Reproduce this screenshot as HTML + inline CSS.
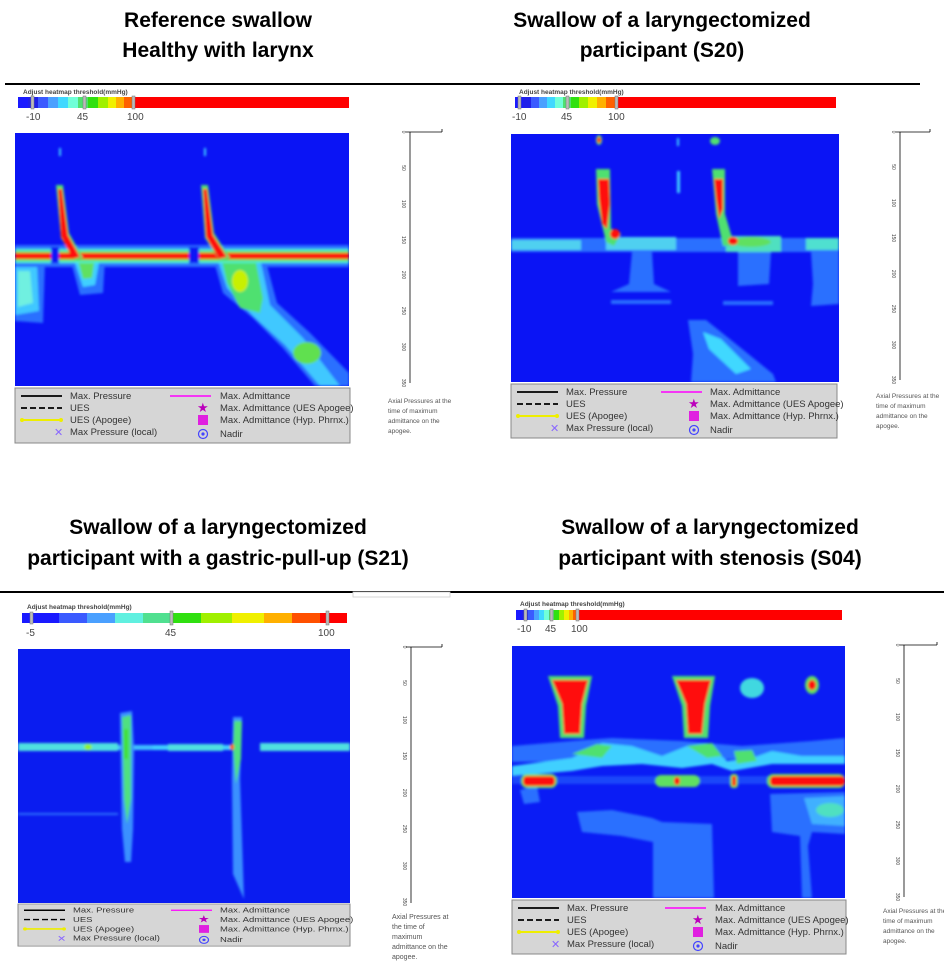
<!DOCTYPE html>
<html><head><meta charset="utf-8"><style>
html,body{margin:0;padding:0;background:#fff;width:944px;height:962px;overflow:hidden}
svg{display:block}
.t{font-family:"Liberation Sans",sans-serif;font-weight:bold;font-size:21px;fill:#000}
.lg{font-family:"Liberation Sans",sans-serif;font-size:9.5px;fill:#333}
.sm{font-family:"Liberation Sans",sans-serif;font-size:6.5px;fill:#555}
.ax{font-family:"Liberation Sans",sans-serif;font-size:5px;fill:#444}
.cb{font-family:"Liberation Sans",sans-serif;font-size:10px;fill:#444}
.cbt{font-family:"Liberation Sans",sans-serif;font-size:6.5px;fill:#444;font-weight:bold}
</style></head><body>
<svg width="944" height="962" viewBox="0 0 944 962" xmlns="http://www.w3.org/2000/svg">
<defs>
<filter id="b1" x="-20%" y="-20%" width="140%" height="140%"><feGaussianBlur stdDeviation="1.3"/></filter>
</defs>
<text class="t" x="218" y="27" text-anchor="middle">Reference swallow</text>
<text class="t" x="218" y="57" text-anchor="middle">Healthy with larynx</text>
<text class="t" x="662" y="27" text-anchor="middle">Swallow of a laryngectomized</text>
<text class="t" x="662" y="57" text-anchor="middle">participant (S20)</text>
<text class="t" x="218" y="534" text-anchor="middle">Swallow of a laryngectomized</text>
<text class="t" x="218" y="565" text-anchor="middle">participant with a gastric-pull-up (S21)</text>
<text class="t" x="710" y="534" text-anchor="middle">Swallow of a laryngectomized</text>
<text class="t" x="710" y="565" text-anchor="middle">participant with stenosis (S04)</text>
<line x1="5" y1="84" x2="920" y2="84" stroke="#000" stroke-width="2"/>
<line x1="0" y1="592" x2="944" y2="592" stroke="#000" stroke-width="2"/>

<!-- ===== Panel 1 ===== -->
<text class="cbt" x="23" y="94">Adjust heatmap threshold(mmHg)</text>
<g>
<rect x="18" y="97" width="331" height="11" fill="#f00"/>
<rect x="18" y="97" width="10" height="11" fill="#1a1aff"/><rect x="28" y="97" width="10" height="11" fill="#2020e8"/>
<rect x="38" y="97" width="10" height="11" fill="#3a5aff"/><rect x="48" y="97" width="10" height="11" fill="#4aa0ff"/>
<rect x="58" y="97" width="10" height="11" fill="#40d8ff"/><rect x="68" y="97" width="10" height="11" fill="#70ffd8"/>
<rect x="78" y="97" width="10" height="11" fill="#50e070"/><rect x="88" y="97" width="10" height="11" fill="#30e010"/>
<rect x="98" y="97" width="10" height="11" fill="#a0f000"/><rect x="108" y="97" width="8" height="11" fill="#f0f000"/>
<rect x="116" y="97" width="8" height="11" fill="#ffb000"/><rect x="124" y="97" width="9" height="11" fill="#ff6000"/>
<rect x="31" y="96" width="3" height="13" fill="#bbb" stroke="#777" stroke-width=".5"/>
<rect x="83" y="96" width="3" height="13" fill="#bbb" stroke="#777" stroke-width=".5"/>
<rect x="132" y="96" width="3" height="13" fill="#bbb" stroke="#777" stroke-width=".5"/>
</g>
<text class="cb" x="26" y="120">-10</text><text class="cb" x="77" y="120">45</text><text class="cb" x="127" y="120">100</text>
<svg x="15" y="133" width="334" height="253" viewBox="0 0 334 253">
<rect width="334" height="253" fill="#0a14f5"/>
<g filter="url(#b1)">
<path d="M0 128 L30 128 L28 190 L0 188Z" fill="#2a70ff"/>
<path d="M0 130 L22 130 L24 178 L0 182Z" fill="#40c8ff"/>
<path d="M3 138 L15 138 L18 170 L3 174Z" fill="#70f0e0"/>
<rect x="0" y="112" width="334" height="22" fill="#2a70ff"/>
<path d="M55 125 L90 125 L88 160 L65 162Z" fill="#2a70ff"/>
<path d="M58 124 L85 124 L80 152 L68 154Z" fill="#40d0ff"/>
<path d="M62 124 L80 124 L77 145 L68 146Z" fill="#60e060"/>
<path d="M198 125 L250 125 L262 170 L295 200 L334 240 L334 253 L300 253 L268 215 L238 185 L208 160Z" fill="#2a70ff"/>
<path d="M202 125 L245 125 L255 172 L288 205 L325 253 L305 253 L270 212 L238 183 L212 155Z" fill="#40c8ff"/>
<path d="M206 124 L240 124 L248 165 L245 180 L225 175 L212 150Z" fill="#50e070"/>
<ellipse cx="225" cy="148" rx="8" ry="11" fill="#c8f000"/>
<ellipse cx="292" cy="220" rx="14" ry="11" fill="#60e050"/>
<rect x="0" y="116" width="334" height="14" fill="#50f0d0"/>
<rect x="0" y="118" width="334" height="10" fill="#60e040"/>
<rect x="0" y="120" width="334" height="6" fill="#ff1010"/>
<rect x="36" y="114" width="8" height="16" fill="#0a14f5"/>
<path d="M41 52 L48 52 L54 100 L68 125 L60 127 L46 105Z" fill="#50e070"/>
<path d="M43 56 L47 56 L53 102 L65 124 L58 126 L46 104Z" fill="#ff1010"/>
<path d="M186 52 L193 52 L199 100 L215 125 L205 128 L190 105Z" fill="#50e070"/>
<path d="M188 56 L192 56 L198 102 L212 124 L204 126 L191 104Z" fill="#ff1010"/>
<rect x="174" y="114" width="10" height="16" fill="#0a14f5"/>
<rect x="44" y="15" width="2" height="8" fill="#40d0ff"/><rect x="189" y="15" width="2" height="8" fill="#40d0ff"/>
</g>
</svg>
<g transform="translate(15,388)">
<rect x="0" y="0" width="335" height="55" fill="#d6d6d6" stroke="#888"/>
<line x1="6" y1="8" x2="47" y2="8" stroke="#000" stroke-width="1.8"/><text class="lg" x="55" y="11">Max. Pressure</text>
<line x1="6" y1="20" x2="47" y2="20" stroke="#000" stroke-width="1.8" stroke-dasharray="6,3"/><text class="lg" x="55" y="23">UES</text>
<line x1="6" y1="32" x2="47" y2="32" stroke="#ee0" stroke-width="2"/><circle cx="7" cy="32" r="2" fill="#ee0"/><circle cx="46" cy="32" r="2" fill="#ee0"/><text class="lg" x="55" y="35">UES (Apogee)</text>
<text x="39" y="48" font-size="11" fill="#86f" font-family="DejaVu Sans">✕</text><text class="lg" x="55" y="47">Max Pressure (local)</text>
<line x1="155" y1="8" x2="196" y2="8" stroke="#f0f" stroke-width="1.5"/><text class="lg" x="205" y="11">Max. Admittance</text>
<text x="182" y="24" font-size="13" fill="#b0b" font-family="DejaVu Sans">★</text><text class="lg" x="205" y="23">Max. Admittance (UES Apogee)</text>
<rect x="183" y="27" width="10" height="10" fill="#e020e0"/><text class="lg" x="205" y="35">Max. Admittance (Hyp. Phrnx.)</text>
<circle cx="188" cy="46" r="4.5" fill="none" stroke="#44f" stroke-width="1.2"/><circle cx="188" cy="46" r="1.6" fill="#44f"/><text class="lg" x="205" y="49">Nadir</text>
</g>
<g>
<line x1="410" y1="132" x2="410" y2="383" stroke="#000" stroke-width=".8"/>
<line x1="406" y1="132" x2="442" y2="132" stroke="#000" stroke-width=".8"/><line x1="442" y1="129" x2="442" y2="132" stroke="#000" stroke-width=".8"/>
<g class="ax">
<text transform="translate(402,132) rotate(90)" text-anchor="middle">0</text>
<text transform="translate(402,168) rotate(90)" text-anchor="middle">50</text>
<text transform="translate(402,204) rotate(90)" text-anchor="middle">100</text>
<text transform="translate(402,240) rotate(90)" text-anchor="middle">150</text>
<text transform="translate(402,275) rotate(90)" text-anchor="middle">200</text>
<text transform="translate(402,311) rotate(90)" text-anchor="middle">250</text>
<text transform="translate(402,347) rotate(90)" text-anchor="middle">300</text>
<text transform="translate(402,383) rotate(90)" text-anchor="middle">350</text>
</g>
<text class="sm" x="388" y="403">Axial Pressures at the</text>
<text class="sm" x="388" y="413">time of maximum</text>
<text class="sm" x="388" y="423">admittance on the</text>
<text class="sm" x="388" y="433">apogee.</text>
</g>

<!-- ===== Panel 2 ===== -->
<text class="cbt" x="519" y="94">Adjust heatmap threshold(mmHg)</text>
<g>
<rect x="515" y="97" width="321" height="11" fill="#f00"/>
<rect x="515" y="97" width="8" height="11" fill="#1a1aff"/><rect x="523" y="97" width="8" height="11" fill="#2020e8"/>
<rect x="531" y="97" width="8" height="11" fill="#3a5aff"/><rect x="539" y="97" width="8" height="11" fill="#4aa0ff"/>
<rect x="547" y="97" width="8" height="11" fill="#40d8ff"/><rect x="555" y="97" width="8" height="11" fill="#70ffd8"/>
<rect x="563" y="97" width="8" height="11" fill="#50e070"/><rect x="571" y="97" width="8" height="11" fill="#30e010"/>
<rect x="579" y="97" width="9" height="11" fill="#a0f000"/><rect x="588" y="97" width="9" height="11" fill="#f0f000"/>
<rect x="597" y="97" width="9" height="11" fill="#ffb000"/><rect x="606" y="97" width="10" height="11" fill="#ff6000"/>
<rect x="518" y="96" width="3" height="13" fill="#bbb" stroke="#777" stroke-width=".5"/>
<rect x="566" y="96" width="3" height="13" fill="#bbb" stroke="#777" stroke-width=".5"/>
<rect x="615" y="96" width="3" height="13" fill="#bbb" stroke="#777" stroke-width=".5"/>
</g>
<text class="cb" x="512" y="120">-10</text><text class="cb" x="561" y="120">45</text><text class="cb" x="608" y="120">100</text>
<svg x="511" y="134" width="328" height="248" viewBox="0 0 328 248">
<rect width="328" height="248" fill="#0a14f5"/>
<g filter="url(#b1)">
<path d="M121 118 L141 118 L143 150 L160 158 L100 158 L118 150Z" fill="#2a70ff"/>
<rect x="100" y="166" width="60" height="4" fill="#2a70ff"/>
<path d="M227 118 L260 118 L258 150 L227 152Z" fill="#2a70ff"/>
<rect x="212" y="167" width="50" height="4" fill="#2a70ff"/>
<path d="M300 118 L328 118 L328 170 L300 172 L302 150Z" fill="#2a70ff"/>
<path d="M177 186 L195 186 L225 210 L262 240 L265 248 L180 248 L182 220Z" fill="#2a70ff"/>
<path d="M192 198 L210 205 L240 235 L225 240 L198 215Z" fill="#40d8ff"/>
<rect x="0" y="104" width="328" height="14" fill="#2a70ff"/>
<rect x="0" y="106" width="70" height="10" fill="#50d0f0"/>
<rect x="95" y="103" width="70" height="13" fill="#50d0f0"/>
<rect x="215" y="102" width="55" height="16" fill="#50e0c0"/>
<ellipse cx="240" cy="108" rx="20" ry="5" fill="#60e060"/>
<rect x="295" y="104" width="33" height="12" fill="#50e0d0"/>
<path d="M85 35 L99 35 L100 95 L110 100 L103 112 L95 108 L86 70Z" fill="#50e070"/>
<path d="M87 45 L98 45 L99 70 L96 95 L91 90 L88 65Z" fill="#ff1010"/>
<ellipse cx="88" cy="6" rx="3" ry="5" fill="#50e070"/><ellipse cx="88" cy="6" rx="2" ry="3" fill="#ff1010"/>
<ellipse cx="104" cy="100" rx="5" ry="5" fill="#ff1010"/>
<path d="M201 35 L214 35 L214 80 L220 100 L225 112 L212 112 L205 80Z" fill="#50e070"/>
<path d="M203 45 L212 45 L212 75 L208 85 L205 65Z" fill="#ff1010"/>
<ellipse cx="204" cy="7" rx="5" ry="4" fill="#50e070"/>
<ellipse cx="222" cy="107" rx="5" ry="4" fill="#ff1010"/>
<rect x="166" y="37" width="3" height="22" fill="#40d0ff"/>
<rect x="166" y="4" width="2" height="8" fill="#40d0ff"/>
</g>
</svg>
<g transform="translate(511,384)">
<rect x="0" y="0" width="326" height="54" fill="#d6d6d6" stroke="#888"/>
<line x1="6" y1="8" x2="47" y2="8" stroke="#000" stroke-width="1.8"/><text class="lg" x="55" y="11">Max. Pressure</text>
<line x1="6" y1="20" x2="47" y2="20" stroke="#000" stroke-width="1.8" stroke-dasharray="6,3"/><text class="lg" x="55" y="23">UES</text>
<line x1="6" y1="32" x2="47" y2="32" stroke="#ee0" stroke-width="2"/><circle cx="7" cy="32" r="2" fill="#ee0"/><circle cx="46" cy="32" r="2" fill="#ee0"/><text class="lg" x="55" y="35">UES (Apogee)</text>
<text x="39" y="48" font-size="11" fill="#86f" font-family="DejaVu Sans">✕</text><text class="lg" x="55" y="47">Max Pressure (local)</text>
<line x1="150" y1="8" x2="191" y2="8" stroke="#f0f" stroke-width="1.5"/><text class="lg" x="199" y="11">Max. Admittance</text>
<text x="177" y="24" font-size="13" fill="#b0b" font-family="DejaVu Sans">★</text><text class="lg" x="199" y="23">Max. Admittance (UES Apogee)</text>
<rect x="178" y="27" width="10" height="10" fill="#e020e0"/><text class="lg" x="199" y="35">Max. Admittance (Hyp. Phrnx.)</text>
<circle cx="183" cy="46" r="4.5" fill="none" stroke="#44f" stroke-width="1.2"/><circle cx="183" cy="46" r="1.6" fill="#44f"/><text class="lg" x="199" y="49">Nadir</text>
</g>
<g>
<line x1="900" y1="132" x2="900" y2="380" stroke="#000" stroke-width=".8"/>
<line x1="896" y1="132" x2="930" y2="132" stroke="#000" stroke-width=".8"/><line x1="930" y1="129" x2="930" y2="132" stroke="#000" stroke-width=".8"/>
<g class="ax">
<text transform="translate(892,132) rotate(90)" text-anchor="middle">0</text>
<text transform="translate(892,167) rotate(90)" text-anchor="middle">50</text>
<text transform="translate(892,203) rotate(90)" text-anchor="middle">100</text>
<text transform="translate(892,238) rotate(90)" text-anchor="middle">150</text>
<text transform="translate(892,274) rotate(90)" text-anchor="middle">200</text>
<text transform="translate(892,309) rotate(90)" text-anchor="middle">250</text>
<text transform="translate(892,345) rotate(90)" text-anchor="middle">300</text>
<text transform="translate(892,380) rotate(90)" text-anchor="middle">350</text>
</g>
<text class="sm" x="876" y="398">Axial Pressures at the</text>
<text class="sm" x="876" y="408">time of maximum</text>
<text class="sm" x="876" y="418">admittance on the</text>
<text class="sm" x="876" y="428">apogee.</text>
</g>

<!-- ===== Panel 3 ===== -->
<rect x="353" y="592" width="97" height="5" fill="#fff" stroke="#ccc" stroke-width=".8"/>
<text class="cbt" x="27" y="609">Adjust heatmap threshold(mmHg)</text>
<g>
<rect x="22" y="613" width="37" height="10" fill="#1a1aff"/><rect x="59" y="613" width="28" height="10" fill="#3a5aff"/>
<rect x="87" y="613" width="28" height="10" fill="#4aa0ff"/><rect x="115" y="613" width="28" height="10" fill="#60f0e0"/>
<rect x="143" y="613" width="28" height="10" fill="#50e090"/><rect x="171" y="613" width="30" height="10" fill="#30e010"/>
<rect x="201" y="613" width="31" height="10" fill="#a0f000"/><rect x="232" y="613" width="32" height="10" fill="#f0f000"/>
<rect x="264" y="613" width="28" height="10" fill="#ffb000"/><rect x="292" y="613" width="28" height="10" fill="#ff5000"/>
<rect x="320" y="613" width="27" height="10" fill="#f00"/>
<rect x="30" y="612" width="3" height="12" fill="#bbb" stroke="#777" stroke-width=".5"/>
<rect x="170" y="611" width="3" height="14" fill="#bbb" stroke="#777" stroke-width=".5"/>
<rect x="326" y="611" width="3" height="14" fill="#bbb" stroke="#777" stroke-width=".5"/>
</g>
<text class="cb" x="26" y="636">-5</text><text class="cb" x="165" y="636">45</text><text class="cb" x="318" y="636">100</text>
<svg x="18" y="649" width="332" height="254" viewBox="0 0 332 254">
<rect width="332" height="254" fill="#0a1cf0"/>
<g filter="url(#b1)">
<rect x="0" y="94" width="100" height="8" fill="#50e0e0"/>
<rect x="100" y="96" width="35" height="5" fill="#40c0ff"/>
<rect x="135" y="96" width="80" height="5" fill="#40d0ff"/>
<rect x="150" y="95" width="55" height="7" fill="#50e0e0"/>
<rect x="242" y="94" width="90" height="8" fill="#50e0e0"/>
<ellipse cx="70" cy="98" rx="4" ry="3" fill="#90f020"/>
<rect x="0" y="164" width="100" height="2" fill="#3a90ff" opacity=".7"/>
<path d="M102 64 L114 62 L116 100 L115 180 L113 213 L107 213 L104 180Z" fill="#3a90ff"/>
<path d="M104 68 L113 66 L113 150 L109 175 L106 150Z" fill="#50e080"/>
<rect x="106" y="80" width="4" height="30" fill="#40e030"/>
<path d="M215 68 L224 68 L222 130 L226 250 L215 225 L214 130Z" fill="#3a90ff"/>
<path d="M216 72 L224 72 L223 110 L218 135 L215 100Z" fill="#50e080"/>
<ellipse cx="214" cy="98" rx="2" ry="3" fill="#ff5000"/>
</g>
</svg>
<g transform="translate(18,904) scale(1,0.78)">
<rect x="0" y="0" width="332" height="54" fill="#d6d6d6" stroke="#888"/>
<line x1="6" y1="8" x2="47" y2="8" stroke="#000" stroke-width="1.8"/><text class="lg" x="55" y="11">Max. Pressure</text>
<line x1="6" y1="20" x2="47" y2="20" stroke="#000" stroke-width="1.8" stroke-dasharray="6,3"/><text class="lg" x="55" y="23">UES</text>
<line x1="6" y1="32" x2="47" y2="32" stroke="#ee0" stroke-width="2"/><circle cx="7" cy="32" r="2" fill="#ee0"/><circle cx="46" cy="32" r="2" fill="#ee0"/><text class="lg" x="55" y="35">UES (Apogee)</text>
<text x="39" y="48" font-size="11" fill="#86f" font-family="DejaVu Sans">✕</text><text class="lg" x="55" y="47">Max Pressure (local)</text>
<line x1="153" y1="8" x2="194" y2="8" stroke="#f0f" stroke-width="1.5"/><text class="lg" x="202" y="11">Max. Admittance</text>
<text x="180" y="24" font-size="13" fill="#b0b" font-family="DejaVu Sans">★</text><text class="lg" x="202" y="23">Max. Admittance (UES Apogee)</text>
<rect x="181" y="27" width="10" height="10" fill="#e020e0"/><text class="lg" x="202" y="35">Max. Admittance (Hyp. Phrnx.)</text>
<circle cx="186" cy="46" r="4.5" fill="none" stroke="#44f" stroke-width="1.2"/><circle cx="186" cy="46" r="1.6" fill="#44f"/><text class="lg" x="202" y="49">Nadir</text>
</g>
<g>
<line x1="411" y1="647" x2="411" y2="903" stroke="#000" stroke-width=".8"/>
<line x1="406" y1="647" x2="442" y2="647" stroke="#000" stroke-width=".8"/><line x1="442" y1="644" x2="442" y2="647" stroke="#000" stroke-width=".8"/>
<g class="ax">
<text transform="translate(403,647) rotate(90)" text-anchor="middle">0</text>
<text transform="translate(403,683) rotate(90)" text-anchor="middle">50</text>
<text transform="translate(403,720) rotate(90)" text-anchor="middle">100</text>
<text transform="translate(403,756) rotate(90)" text-anchor="middle">150</text>
<text transform="translate(403,793) rotate(90)" text-anchor="middle">200</text>
<text transform="translate(403,829) rotate(90)" text-anchor="middle">250</text>
<text transform="translate(403,866) rotate(90)" text-anchor="middle">300</text>
<text transform="translate(403,902) rotate(90)" text-anchor="middle">350</text>
</g>
<text class="sm" x="392" y="919" style="font-size:7px">Axial Pressures at</text>
<text class="sm" x="392" y="929" style="font-size:7px">the time of</text>
<text class="sm" x="392" y="939" style="font-size:7px">maximum</text>
<text class="sm" x="392" y="949" style="font-size:7px">admittance on the</text>
<text class="sm" x="392" y="959" style="font-size:7px">apogee.</text>
</g>

<!-- ===== Panel 4 ===== -->
<text class="cbt" x="520" y="606">Adjust heatmap threshold(mmHg)</text>
<g>
<rect x="516" y="610" width="326" height="10" fill="#f00"/>
<rect x="516" y="610" width="6" height="10" fill="#1a1aff"/><rect x="522" y="610" width="6" height="10" fill="#2020e8"/>
<rect x="528" y="610" width="6" height="10" fill="#3a5aff"/><rect x="534" y="610" width="5" height="10" fill="#4aa0ff"/>
<rect x="539" y="610" width="5" height="10" fill="#40d8ff"/><rect x="544" y="610" width="5" height="10" fill="#70ffd8"/>
<rect x="549" y="610" width="5" height="10" fill="#50e070"/><rect x="554" y="610" width="5" height="10" fill="#30e010"/>
<rect x="559" y="610" width="5" height="10" fill="#a0f000"/><rect x="564" y="610" width="5" height="10" fill="#f0f000"/>
<rect x="569" y="610" width="4" height="10" fill="#ffb000"/><rect x="573" y="610" width="5" height="10" fill="#ff6000"/>
<rect x="524" y="609" width="3" height="12" fill="#bbb" stroke="#777" stroke-width=".5"/>
<rect x="550" y="609" width="3" height="12" fill="#bbb" stroke="#777" stroke-width=".5"/>
<rect x="576" y="609" width="3" height="12" fill="#bbb" stroke="#777" stroke-width=".5"/>
</g>
<text class="cb" x="517" y="632">-10</text><text class="cb" x="545" y="632">45</text><text class="cb" x="571" y="632">100</text>
<svg x="512" y="646" width="333" height="252" viewBox="0 0 333 252">
<rect width="333" height="252" fill="#0a1cf5"/>
<g filter="url(#b1)">
<path d="M0 100 L60 95 L100 92 L170 95 L230 100 L300 95 L333 92 L333 112 L0 116Z" fill="#2a70ff"/>
<path d="M8 144 L25 140 L28 156 L12 158Z" fill="#2a70ff"/>
<path d="M65 166 L100 164 L140 172 L150 176 L200 178 L202 252 L141 252 L141 196 L110 190 L70 186Z" fill="#2a70ff"/>
<path d="M258 148 L333 146 L333 188 L300 186 L296 200 L300 252 L290 252 L288 190 L260 186Z" fill="#2a70ff"/>
<path d="M292 152 L333 150 L333 180 L300 178Z" fill="#40b0ff"/>
<ellipse cx="318" cy="164" rx="14" ry="7" fill="#50e0c0"/>
<path d="M0 120 L60 112 L90 97 L120 100 L150 110 L175 100 L195 97 L215 115 L240 112 L260 105 L290 110 L333 110 L333 118 L260 118 L220 125 L200 118 L170 122 L130 118 L90 120 L60 125 L0 130Z" fill="#40d0ff"/>
<path d="M60 108 L85 98 L100 100 L90 112Z" fill="#50e070"/>
<path d="M175 100 L200 97 L210 110 L195 112Z" fill="#50e070"/>
<path d="M222 105 L240 104 L245 115 L225 118Z" fill="#50e070"/>
<path d="M36 30 L80 30 L74 60 L72 92 L48 92 L46 60Z" fill="#50e070"/>
<path d="M40 34 L76 34 L70 58 L68 88 L52 88 L50 58Z" fill="#ff1010"/>
<path d="M160 30 L203 30 L198 60 L196 92 L172 92 L170 60Z" fill="#50e070"/>
<path d="M164 34 L199 34 L193 58 L190 88 L176 88 L174 58Z" fill="#ff1010"/>
<ellipse cx="240" cy="42" rx="12" ry="10" fill="#40d8e0"/>
<ellipse cx="300" cy="39" rx="7" ry="9" fill="#60e060"/>
<ellipse cx="300" cy="39" rx="4" ry="5" fill="#ff1010"/>
<rect x="0" y="130" width="333" height="8" fill="#2a70ff" opacity=".5"/>
<rect x="9" y="128" width="36" height="14" rx="6" fill="#60e060"/>
<rect x="11" y="130" width="32" height="10" rx="4" fill="#ff1010"/>
<rect x="143" y="129" width="45" height="12" rx="6" fill="#60e060"/>
<ellipse cx="165" cy="135" rx="3" ry="4" fill="#ff1010"/>
<rect x="218" y="128" width="8" height="14" rx="3" fill="#60e060"/>
<rect x="220" y="130" width="4" height="10" fill="#ff1010"/>
<rect x="255" y="128" width="78" height="14" rx="6" fill="#60e060"/>
<rect x="258" y="130" width="75" height="10" rx="4" fill="#ff1010"/>
</g>
</svg>
<g transform="translate(512,900)">
<rect x="0" y="0" width="334" height="54" fill="#d6d6d6" stroke="#888"/>
<line x1="6" y1="8" x2="47" y2="8" stroke="#000" stroke-width="1.8"/><text class="lg" x="55" y="11">Max. Pressure</text>
<line x1="6" y1="20" x2="47" y2="20" stroke="#000" stroke-width="1.8" stroke-dasharray="6,3"/><text class="lg" x="55" y="23">UES</text>
<line x1="6" y1="32" x2="47" y2="32" stroke="#ee0" stroke-width="2"/><circle cx="7" cy="32" r="2" fill="#ee0"/><circle cx="46" cy="32" r="2" fill="#ee0"/><text class="lg" x="55" y="35">UES (Apogee)</text>
<text x="39" y="48" font-size="11" fill="#86f" font-family="DejaVu Sans">✕</text><text class="lg" x="55" y="47">Max Pressure (local)</text>
<line x1="153" y1="8" x2="194" y2="8" stroke="#f0f" stroke-width="1.5"/><text class="lg" x="203" y="11">Max. Admittance</text>
<text x="180" y="24" font-size="13" fill="#b0b" font-family="DejaVu Sans">★</text><text class="lg" x="203" y="23">Max. Admittance (UES Apogee)</text>
<rect x="181" y="27" width="10" height="10" fill="#e020e0"/><text class="lg" x="203" y="35">Max. Admittance (Hyp. Phrnx.)</text>
<circle cx="186" cy="46" r="4.5" fill="none" stroke="#44f" stroke-width="1.2"/><circle cx="186" cy="46" r="1.6" fill="#44f"/><text class="lg" x="203" y="49">Nadir</text>
</g>
<g>
<line x1="904" y1="645" x2="904" y2="897" stroke="#000" stroke-width=".8"/>
<line x1="900" y1="645" x2="937" y2="645" stroke="#000" stroke-width=".8"/><line x1="937" y1="642" x2="937" y2="645" stroke="#000" stroke-width=".8"/>
<g class="ax">
<text transform="translate(896,645) rotate(90)" text-anchor="middle">0</text>
<text transform="translate(896,681) rotate(90)" text-anchor="middle">50</text>
<text transform="translate(896,717) rotate(90)" text-anchor="middle">100</text>
<text transform="translate(896,753) rotate(90)" text-anchor="middle">150</text>
<text transform="translate(896,789) rotate(90)" text-anchor="middle">200</text>
<text transform="translate(896,825) rotate(90)" text-anchor="middle">250</text>
<text transform="translate(896,861) rotate(90)" text-anchor="middle">300</text>
<text transform="translate(896,897) rotate(90)" text-anchor="middle">350</text>
</g>
<text class="sm" x="883" y="913">Axial Pressures at the</text>
<text class="sm" x="883" y="923">time of maximum</text>
<text class="sm" x="883" y="933">admittance on the</text>
<text class="sm" x="883" y="943">apogee.</text>
</g>
</svg>
</body></html>
